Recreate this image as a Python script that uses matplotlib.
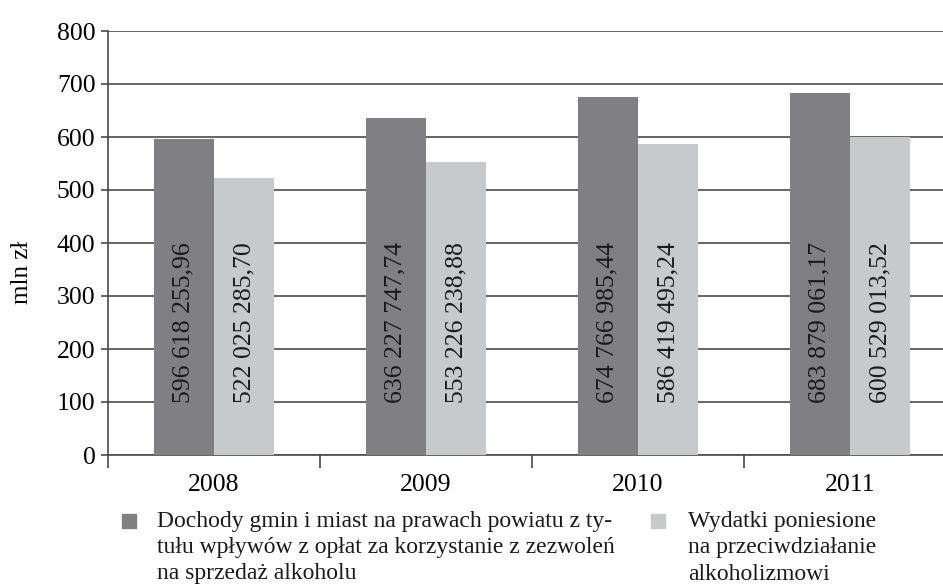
"""Bar chart: gminy alcohol permit income vs. spending, 2008-2011."""
import matplotlib
matplotlib.use("Agg")
import matplotlib.pyplot as plt
from matplotlib.patches import Rectangle
import numpy as np

years = ["2008", "2009", "2010", "2011"]
dochody = [596.618, 636.228, 674.767, 683.879]
wydatki = [522.025, 553.226, 586.419, 600.529]
dochody_labels = ["596 618 255,96", "636 227 747,74", "674 766 985,44", "683 879 061,17"]
wydatki_labels = ["522 025 285,70", "553 226 238,88", "586 419 495,24", "600 529 013,52"]
legend_lines = [
    ["Dochody gmin i miast na prawach powiatu z ty-",
     "tułu wpływów z opłat za korzystanie z zezwoleń",
     "na sprzedaż alkoholu"],
    ["Wydatki poniesione",
     "na przeciwdziałanie",
     "alkoholizmowi"],
]

DARK = "#808083"
LIGHT = "#c8c9cb"
GRID = "#4a4a4a"

plt.rcParams["font.family"] = ["Liberation Serif", "DejaVu Serif"]

W, H = 943, 588
fig = plt.figure(figsize=(W / 100, H / 100), dpi=100)
ax = fig.add_axes([108 / W, 1 - 455 / H, 848 / W, 424 / H])

x = np.arange(len(years))
bw = 0.284
ax.bar(x - bw / 2, dochody, bw, color=DARK, zorder=3)
ax.bar(x + bw / 2, wydatki, bw, color=LIGHT, zorder=3)

for xi, lab in zip(x - bw / 2, dochody_labels):
    ax.text(xi, 250, lab, rotation=90, ha="center", va="center", fontsize=18.5,
            color="#1a1a1a", zorder=4)
for xi, lab in zip(x + bw / 2, wydatki_labels):
    ax.text(xi, 250, lab, rotation=90, ha="center", va="center", fontsize=18.5,
            color="#1a1a1a", zorder=4)

ax.set_xlim(-0.5, 3.5)
ax.set_ylim(0, 800)
ax.set_yticks(range(0, 801, 100))
ax.tick_params(axis="y", labelsize=18.5, length=5, width=1.2, color=GRID, pad=4)
ax.grid(axis="y", color=GRID, linewidth=1.2, zorder=0)

ax.set_xticks(np.arange(-0.5, 3.6, 1.0))
ax.set_xticklabels([])
ax.set_xticks(x, minor=True)
ax.set_xticklabels(years, minor=True)
ax.tick_params(axis="x", which="major", length=9, width=1.2, color=GRID)
ax.tick_params(axis="x", which="minor", length=0, labelsize=18.5, pad=14)

for s in ("top", "right"):
    ax.spines[s].set_visible(False)
for s in ("left", "bottom"):
    ax.spines[s].set_color(GRID)
    ax.spines[s].set_linewidth(1.2)

fig.text(22 / W, 1 - 272 / H, "mln zł", rotation=90, ha="center", va="center", fontsize=18)

# hand-built legend
sq = 14
for (sx, tx), lines, col in zip([(122, 157), (651, 688)], legend_lines, [DARK, LIGHT]):
    fig.add_artist(Rectangle((sx / W, 1 - (521 + sq / 2) / H), sq / W, sq / H,
                             transform=fig.transFigure, color=col))
    for i, line in enumerate(lines):
        fig.text(tx / W, 1 - (521 + 26.5 * i) / H, line, ha="left", va="center",
                 fontsize=17, color="#1a1a1a")

fig.savefig("out.png", dpi=100)
